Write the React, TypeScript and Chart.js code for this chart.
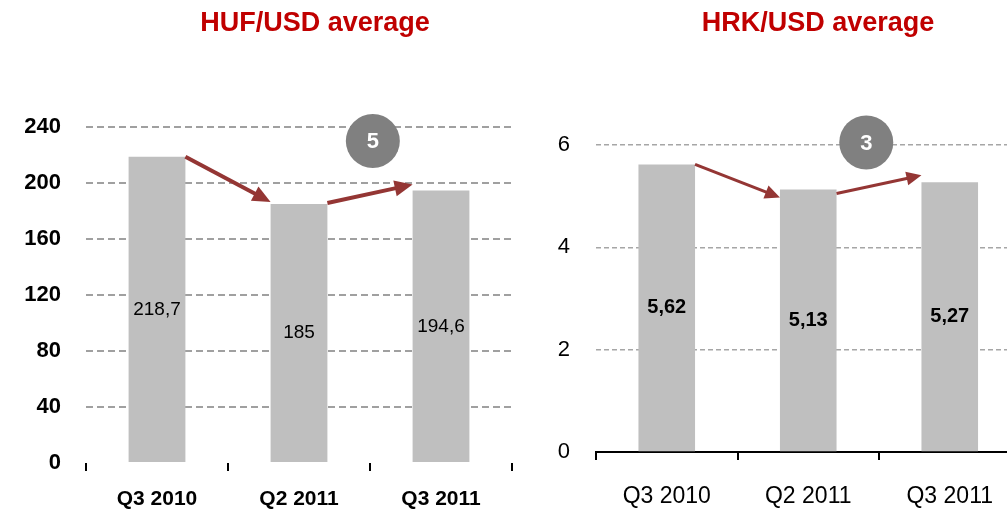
import React, { useEffect, useRef } from 'react';
import { Chart, registerables } from 'chart.js';

Chart.register(...registerables);

const categories = ['Q3 2010', 'Q2 2011', 'Q3 2011'];
const hufValues = [218.7, 185, 194.6];
const hrkValues = [5.62, 5.13, 5.27];
const hufTicks = [0, 40, 80, 120, 160, 200, 240];
const hrkTicks = [0, 2, 4, 6];
const hufTitle = 'HUF/USD average';
const hrkTitle = 'HRK/USD average';
const hufBadge = { text: '5', at: 1.52, value: 230 };
const hrkBadge = { text: '3', at: 1.41, value: 6.05 };

const FAMILY = "'Liberation Sans', Arial, sans-serif";
const BAR = '#bfbfbf';
const ARROW = '#943634';
const TITLE = '#c00000';

const fmt = (v: number) => String(v).replace('.', ',');

function drawArrow(ctx: CanvasRenderingContext2D, x1: number, y1: number, x2: number, y2: number, lw: number, head: number, halfW: number) {
  const ang = Math.atan2(y2 - y1, x2 - x1);
  const hx = x2 - head * Math.cos(ang);
  const hy = y2 - head * Math.sin(ang);
  ctx.save();
  ctx.strokeStyle = ARROW;
  ctx.fillStyle = ARROW;
  ctx.lineWidth = lw;
  ctx.beginPath();
  ctx.moveTo(x1, y1);
  ctx.lineTo(hx + 1 * Math.cos(ang), hy + 1 * Math.sin(ang));
  ctx.stroke();
  ctx.beginPath();
  ctx.moveTo(x2, y2);
  ctx.lineTo(hx + halfW * Math.sin(ang), hy - halfW * Math.cos(ang));
  ctx.lineTo(hx - halfW * Math.sin(ang), hy + halfW * Math.cos(ang));
  ctx.closePath();
  ctx.fill();
  ctx.restore();
}

type OverlayCfg = {
  labelFont: string;
  badge: { text: string; at: number; value: number };
  endOffsets: number[];
  startOffsets: number[];
  lw: number;
  head: number;
  halfW: number;
};

function makeOverlay(cfg: OverlayCfg) {
  return {
    id: 'overlay',
    afterDatasetsDraw(chart: any) {
      const ctx: CanvasRenderingContext2D = chart.ctx;
      const meta = chart.getDatasetMeta(0);
      const values: number[] = chart.data.datasets[0].data;
      const bars = meta.data.map((el: any) => el.getProps(['x', 'y', 'base', 'width'], true));
      ctx.save();
      ctx.font = cfg.labelFont;
      ctx.fillStyle = '#000';
      ctx.textAlign = 'center';
      ctx.textBaseline = 'middle';
      bars.forEach((b: any, i: number) => {
        ctx.fillText(fmt(values[i]), b.x, (b.y + b.base) / 2);
      });
      ctx.restore();
      for (let i = 0; i < bars.length - 1; i++) {
        const a = bars[i];
        const b = bars[i + 1];
        drawArrow(
          ctx,
          a.x + a.width / 2,
          a.y + cfg.startOffsets[i],
          b.x - b.width / 2,
          b.y + cfg.endOffsets[i],
          cfg.lw,
          cfg.head,
          cfg.halfW
        );
      }
      const bx = chart.scales.x.getPixelForValue(cfg.badge.at);
      const by = chart.scales.y.getPixelForValue(cfg.badge.value);
      ctx.save();
      ctx.fillStyle = '#808080';
      ctx.beginPath();
      ctx.arc(bx, by, 27, 0, Math.PI * 2);
      ctx.fill();
      ctx.fillStyle = '#ffffff';
      ctx.font = `bold 22px ${FAMILY}`;
      ctx.textAlign = 'center';
      ctx.textBaseline = 'middle';
      ctx.fillText(cfg.badge.text, bx, by + 1);
      ctx.restore();
    },
  };
}

// invisible right-hand axis that reserves space so the title is centred like the reference
const spacerAxis = (w: number) => ({
  type: 'linear',
  position: 'right',
  display: true,
  grid: { display: false, drawTicks: false },
  ticks: { display: false },
  border: { display: false },
  afterFit: (s: any) => {
    s.width = w;
  },
});

function App() {
  const leftRef = useRef<HTMLCanvasElement>(null);
  const rightRef = useRef<HTMLCanvasElement>(null);

  useEffect(() => {
    const left = new Chart(leftRef.current as HTMLCanvasElement, {
      type: 'bar',
      data: {
        labels: categories,
        datasets: [
          {
            data: hufValues,
            backgroundColor: BAR,
            barPercentage: 0.4,
            categoryPercentage: 1,
          },
        ],
      },
      options: {
        responsive: false,
        animation: false,
        devicePixelRatio: 1,
        layout: { padding: 0 },
        plugins: {
          legend: { display: false },
          tooltip: { enabled: false },
          title: {
            display: true,
            text: hufTitle,
            color: TITLE,
            font: { family: FAMILY, size: 27, weight: 'bold', lineHeight: 1.2 },
            padding: { top: 7.8, bottom: 86.8 },
          },
        },
        scales: {
          x: {
            grid: {
              display: true,
              drawOnChartArea: false,
              drawTicks: true,
              tickLength: 8,
              color: '#000',
              lineWidth: 2,
              offset: true,
            },
            border: { display: false },
            ticks: {
              color: '#000',
              font: { family: FAMILY, size: 21, weight: 'bold' },
              padding: 16,
              maxRotation: 0,
            },
            afterFit: (s: any) => {
              s.height = 50;
            },
          },
          y: {
            min: 0,
            max: 240,
            afterBuildTicks: (s: any) => {
              s.ticks = hufTicks.map((v) => ({ value: v }));
            },
            grid: {
              drawTicks: false,
              color: (c: any) => (c.tick && c.tick.value === 0 ? 'rgba(0,0,0,0)' : '#a0a0a0'),
              lineWidth: 2,
            },
            border: { display: false, dash: [7, 4] },
            ticks: {
              color: '#000',
              font: { family: FAMILY, size: 22, weight: 'bold' },
              padding: 25,
            },
            afterFit: (s: any) => {
              s.width = 86;
            },
          },
          spacer: spacerAxis(118),
        },
      } as any,
      plugins: [
        makeOverlay({
          labelFont: `19px ${FAMILY}`,
          badge: hufBadge,
          startOffsets: [0, -1],
          endOffsets: [-2, -6],
          lw: 4,
          head: 18,
          halfW: 8,
        }),
      ],
    });

    const right = new Chart(rightRef.current as HTMLCanvasElement, {
      type: 'bar',
      data: {
        labels: categories,
        datasets: [
          {
            data: hrkValues,
            backgroundColor: BAR,
            barPercentage: 0.4,
            categoryPercentage: 1,
          },
        ],
      },
      options: {
        responsive: false,
        animation: false,
        devicePixelRatio: 1,
        layout: { padding: 0 },
        plugins: {
          legend: { display: false },
          tooltip: { enabled: false },
          title: {
            display: true,
            text: hrkTitle,
            color: TITLE,
            font: { family: FAMILY, size: 27, weight: 'bold', lineHeight: 1.2 },
            padding: { top: 7.8, bottom: 104.8 },
          },
        },
        scales: {
          x: {
            grid: {
              display: true,
              drawOnChartArea: false,
              drawTicks: true,
              tickLength: 8,
              color: '#000',
              lineWidth: 2,
              offset: true,
            },
            border: { display: true, color: '#000', width: 2 },
            ticks: {
              color: '#000',
              font: { family: FAMILY, size: 23 },
              padding: 23,
              maxRotation: 0,
            },
            afterFit: (s: any) => {
              s.height = 61;
            },
          },
          y: {
            min: 0,
            max: 6,
            afterBuildTicks: (s: any) => {
              s.ticks = hrkTicks.map((v) => ({ value: v }));
            },
            grid: {
              drawTicks: false,
              color: (c: any) => (c.tick && c.tick.value === 0 ? 'rgba(0,0,0,0)' : '#a6a6a6'),
              lineWidth: 1.5,
            },
            border: { display: false, dash: [5, 3] },
            ticks: {
              color: '#000',
              font: { family: FAMILY, size: 22 },
              padding: 26,
            },
            afterFit: (s: any) => {
              s.width = 56;
            },
          },
          spacer: spacerAxis(75.5),
        },
      } as any,
      plugins: [
        makeOverlay({
          labelFont: `bold 20px ${FAMILY}`,
          badge: hrkBadge,
          startOffsets: [0, 4],
          endOffsets: [8, -7],
          lw: 3,
          head: 15,
          halfW: 7,
        }),
      ],
    });

    return () => {
      left.destroy();
      right.destroy();
    };
  }, []);

  return (
    <div
      style={{
        position: 'absolute',
        left: 0,
        top: 0,
        width: 1007,
        height: 513,
        overflow: 'hidden',
        background: '#fff',
      }}
    >
      <canvas
        ref={leftRef}
        width={630}
        height={513}
        style={{ position: 'absolute', left: 0, top: 0, width: 630, height: 513 }}
      />
      <canvas
        ref={rightRef}
        width={556}
        height={513}
        style={{ position: 'absolute', left: 540, top: 0, width: 556, height: 513 }}
      />
    </div>
  );
}

export default App;
